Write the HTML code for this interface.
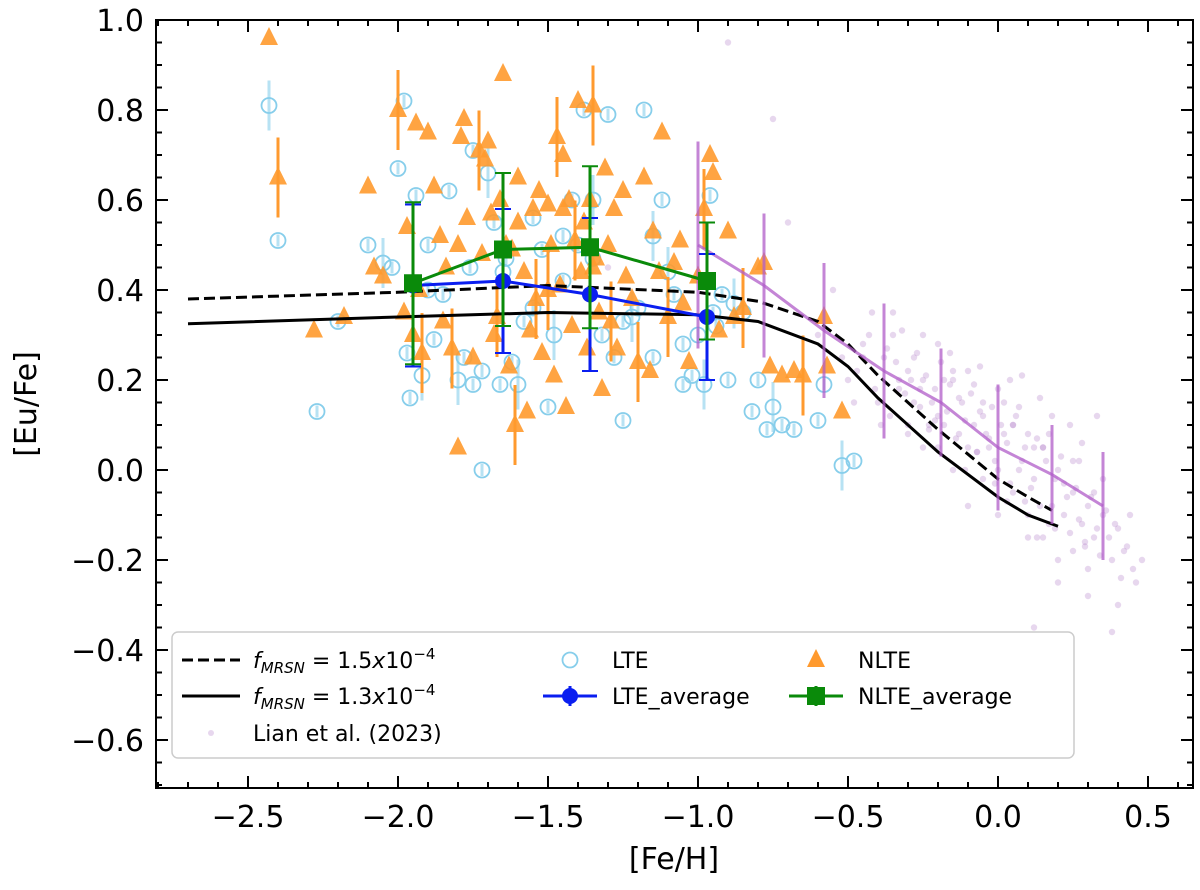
<!DOCTYPE html>
<html><head><meta charset="utf-8"><style>
body{margin:0;background:#fff;}
svg text{font-family:"DejaVu Sans","Liberation Sans",sans-serif;}
</style></head><body>
<svg id="chart" width="1200" height="885" xmlns="http://www.w3.org/2000/svg">
<g id="lian"></g>
<g id="lte"></g>
<g id="nlte"></g>
<g id="models"></g>
<g id="avg"></g>
<g id="axes"></g>
<g id="legend"></g>
</svg>
<script>
const lteX=[-2.43,-2.40,-2.27,-2.2,-2.1,-2.05,-2.02,-1.98,-1.96,-1.94,-1.92,-1.9,-1.88,-1.85,-1.83,-1.8,-1.78,-1.76,-1.75,-1.72,-1.7,-1.68,-1.66,-1.64,-1.62,-1.6,-1.58,-1.55,-1.52,-1.5,-1.48,-1.45,-1.42,-1.4,-1.38,-1.35,-1.32,-1.3,-1.28,-1.25,-1.22,-1.2,-1.18,-1.15,-1.12,-1.1,-1.08,-1.05,-1.02,-1.0,-0.98,-0.96,-0.94,-0.92,-0.9,-0.88,-0.85,-0.82,-0.8,-0.77,-0.75,-0.72,-0.68,-0.6,-0.58,-0.52,-0.48,-1.97,-1.9,-1.75,-1.65,-1.55,-1.45,-1.35,-1.25,-1.15,-1.05,-0.95,-1.72,-2.0];
const lteY=[0.81,0.51,0.13,0.33,0.5,0.46,0.45,0.82,0.16,0.61,0.21,0.5,0.29,0.39,0.62,0.2,0.25,0.45,0.19,0.22,0.66,0.55,0.19,0.47,0.24,0.19,0.33,0.36,0.49,0.14,0.3,0.52,0.6,0.5,0.8,0.6,0.3,0.79,0.25,0.11,0.34,0.36,0.8,0.25,0.6,0.44,0.39,0.19,0.21,0.3,0.19,0.61,0.32,0.39,0.2,0.37,0.35,0.13,0.2,0.09,0.14,0.1,0.09,0.11,0.19,0.01,0.02,0.26,0.4,0.71,0.44,0.56,0.42,0.47,0.33,0.52,0.28,0.35,0.0,0.67];
const nlteX=[-2.43,-2.4,-2.28,-2.18,-2.1,-2.08,-2.05,-2.0,-1.98,-1.97,-1.95,-1.94,-1.93,-1.92,-1.9,-1.88,-1.86,-1.85,-1.84,-1.82,-1.8,-1.79,-1.78,-1.77,-1.75,-1.73,-1.72,-1.71,-1.7,-1.69,-1.68,-1.67,-1.66,-1.65,-1.64,-1.63,-1.62,-1.61,-1.6,-1.58,-1.57,-1.56,-1.55,-1.54,-1.53,-1.52,-1.5,-1.49,-1.48,-1.47,-1.46,-1.45,-1.44,-1.43,-1.42,-1.41,-1.4,-1.39,-1.38,-1.37,-1.36,-1.35,-1.34,-1.33,-1.32,-1.31,-1.3,-1.29,-1.28,-1.27,-1.25,-1.24,-1.22,-1.2,-1.18,-1.16,-1.15,-1.13,-1.12,-1.1,-1.08,-1.06,-1.05,-1.03,-1.0,-0.98,-0.96,-0.95,-0.93,-0.9,-0.88,-0.85,-0.8,-0.78,-0.76,-0.72,-0.68,-0.65,-0.58,-0.57,-0.52,-1.8,-1.6,-1.5,-1.45,-1.35,-1.3];
const nlteY=[0.96,0.65,0.31,0.34,0.63,0.45,0.43,0.8,0.35,0.54,0.3,0.77,0.4,0.26,0.75,0.63,0.52,0.33,0.45,0.27,0.05,0.74,0.78,0.56,0.25,0.71,0.48,0.69,0.73,0.57,0.3,0.34,0.6,0.88,0.5,0.23,0.49,0.1,0.65,0.44,0.13,0.31,0.58,0.38,0.62,0.26,0.59,0.5,0.21,0.74,0.41,0.7,0.14,0.6,0.32,0.51,0.82,0.44,0.55,0.27,0.6,0.81,0.47,0.35,0.18,0.67,0.5,0.33,0.58,0.27,0.62,0.43,0.38,0.24,0.65,0.22,0.53,0.44,0.75,0.34,0.46,0.51,0.37,0.24,0.43,0.58,0.7,0.66,0.31,0.53,0.34,0.36,0.45,0.46,0.23,0.21,0.22,0.21,0.34,0.23,0.13,0.5,0.55,0.4,0.58,0.45];
const lianX=[-0.9,-0.7,-0.6,-0.55,-0.5,-0.48,-0.45,-0.42,-0.4,-0.38,-0.35,-0.33,-0.3,-0.3,-0.28,-0.25,-0.25,-0.22,-0.2,-0.2,-0.18,-0.15,-0.15,-0.12,-0.1,-0.1,-0.08,-0.05,-0.05,-0.03,0.0,0.0,0.02,0.05,0.05,0.08,0.1,0.1,0.12,0.15,0.15,0.18,0.2,0.2,0.22,0.25,0.25,0.28,0.3,0.3,0.32,0.35,0.38,0.4,0.42,0.45,0.48,-0.35,-0.25,-0.15,-0.05,0.05,0.15,0.25,0.35,-0.45,-0.3,-0.2,-0.1,0.0,0.1,0.2,0.3,0.4,-1.3,-0.75,0.12,0.38,
-0.52,-0.47,-0.43,-0.41,-0.37,-0.36,-0.34,-0.32,-0.31,-0.29,-0.27,-0.26,-0.24,-0.23,-0.21,-0.19,-0.17,-0.16,-0.14,-0.13,-0.11,-0.09,-0.07,-0.06,-0.04,-0.02,-0.01,0.01,0.03,0.04,0.06,0.07,0.09,0.11,0.13,0.14,0.16,0.17,0.19,0.21,0.23,0.24,0.26,0.27,0.29,0.31,0.33,0.34,0.36,0.37,0.39,0.41,0.43,0.44,0.46,-0.33,-0.28,-0.23,-0.18,-0.13,-0.08,-0.03,0.02,0.07,0.12,0.17,0.22,0.27,0.32,-0.39,-0.26,-0.16,-0.06,0.04,0.14,0.24,0.28,0.33,-0.21,-0.11,-0.01,0.09,0.19,0.29,0.08,0.18,0.13,-0.07,0.03];
const lianY=[0.95,0.55,0.3,0.4,0.2,0.15,0.28,0.35,0.15,0.25,0.3,0.18,0.22,0.1,0.25,0.2,0.05,0.15,0.28,0.12,0.1,0.2,0.0,0.15,0.05,0.22,0.1,0.12,-0.02,0.05,0.0,0.18,0.08,-0.05,0.1,0.02,-0.1,0.08,-0.02,0.05,-0.15,-0.08,0.0,-0.2,-0.1,-0.05,-0.18,-0.12,-0.08,-0.22,-0.15,-0.1,-0.2,-0.13,-0.18,-0.22,-0.2,0.35,0.3,0.22,0.15,0.1,0.05,0.02,-0.02,0.25,0.08,0.05,-0.08,-0.1,-0.15,-0.25,-0.28,-0.3,0.45,0.78,-0.35,-0.36,
0.25,0.22,0.3,0.18,0.27,0.12,0.24,0.31,0.17,0.2,0.26,0.14,0.21,0.09,0.18,0.24,0.13,0.19,0.07,0.16,0.11,0.17,0.04,0.13,0.08,0.14,0.02,0.1,0.06,-0.03,0.12,0.0,0.05,-0.04,0.07,-0.08,0.02,-0.12,-0.02,0.03,-0.06,-0.14,-0.04,-0.11,-0.16,-0.06,-0.13,-0.19,-0.09,-0.15,-0.12,-0.24,-0.17,-0.1,-0.25,0.2,0.15,0.1,0.2,0.08,0.19,0.07,0.15,0.14,0.05,0.08,-0.03,0.02,-0.05,0.1,0.18,0.26,0.23,0.2,0.16,0.1,0.06,0.12,0.11,0.0,-0.03,-0.07,-0.13,-0.17,0.21,0.12,-0.15,0.04,-0.07];
const dashX=[-2.7,-2.0,-1.5,-1.0,-0.8,-0.6,-0.5,-0.4,-0.2,0.0,0.1,0.18];
const dashY=[0.38,0.395,0.41,0.395,0.375,0.33,0.28,0.21,0.09,-0.02,-0.06,-0.09];
const solX=[-2.7,-2.0,-1.5,-1.0,-0.8,-0.6,-0.5,-0.4,-0.2,0.0,0.1,0.2];
const solY=[0.325,0.34,0.35,0.345,0.33,0.28,0.23,0.16,0.04,-0.06,-0.1,-0.125];
const purX=[-1.0,-0.78,-0.58,-0.38,-0.19,0.0,0.18,0.35];
const purY=[0.5,0.41,0.31,0.22,0.15,0.05,-0.01,-0.08];
const purE=[0.23,0.16,0.15,0.15,0.12,0.14,0.11,0.12];
const avgX=[-1.95,-1.65,-1.36,-0.97];
const lteAvgY=[0.41,0.42,0.39,0.34];
const lteAvgE=[0.18,0.16,0.17,0.14];
const nlteAvgY=[0.415,0.49,0.495,0.42];
const nlteAvgE=[0.18,0.17,0.18,0.13];
const xTicks=[-2.5,-2.0,-1.5,-1.0,-0.5,0.0,0.5];
const yTicks=[-0.6,-0.4,-0.2,0.0,0.2,0.4,0.6,0.8,1.0];

const NS="http://www.w3.org/2000/svg";
const L=156,R=1193,T=20,B=788;
const sx=v=>998+300*v, sy=v=>470-450*v;
function mk(p,tag,at){const e=document.createElementNS(NS,tag);for(const k in at)e.setAttribute(k,at[k]);p.appendChild(e);return e;}
const g=id=>document.getElementById(id);
const fmt=v=>(v<0?"\u2212":"")+Math.abs(v).toFixed(1);

lianX.forEach((x,i)=>{const c=mk(g('lian'),'circle',{cx:sx(x),cy:sy(lianY[i]),r:3.2,fill:'#b07cc6','fill-opacity':0.3});

});

lteX.forEach((x,i)=>{const y=sy(lteY[i]);
mk(g('lte'),'line',{x1:sx(x),x2:sx(x),y1:y-(i%5==0?25:6),y2:y+(i%5==0?25:6),stroke:'#87ceeb','stroke-opacity':0.6,'stroke-width':3});
const c=mk(g('lte'),'circle',{cx:sx(x),cy:y,r:7.5,fill:'none',stroke:'#87ceeb','stroke-width':1.8});

});

nlteX.forEach((x,i)=>{const X=sx(x),Y=sy(nlteY[i]);
if(i%6==1){mk(g('nlte'),'line',{x1:X,x2:X,y1:Y-40,y2:Y+40,stroke:'#ff9a2e','stroke-width':3});}
const t=mk(g('nlte'),'polygon',{points:`${X},${Y-11} ${X-9},${Y+7} ${X+9},${Y+7}`,fill:'#ff9a2e','fill-opacity':0.9});

});

const path=(xs,ys)=>xs.map((x,i)=>(i?'L':'M')+sx(x)+','+sy(ys[i])).join(' ');
let m=mk(g('models'),'path',{d:path(dashX,dashY),fill:'none',stroke:'#000','stroke-width':3,'stroke-dasharray':'11,5'});


m=mk(g('models'),'path',{d:path(solX,solY),fill:'none',stroke:'#000','stroke-width':3});


m=mk(g('models'),'path',{d:path(purX,purY),fill:'none',stroke:'#b05cc8','stroke-opacity':0.75,'stroke-width':3});


purX.forEach((x,i)=>{mk(g('models'),'line',{x1:sx(x),x2:sx(x),y1:sy(purY[i]+purE[i]),y2:sy(purY[i]-purE[i]),stroke:'#b05cc8','stroke-opacity':0.75,'stroke-width':3});});

function avgSeries(ys,es,col,shape){
mk(g('avg'),'path',{d:path(avgX,ys),fill:'none',stroke:col,'stroke-width':3});
avgX.forEach((x,i)=>{const X=sx(x);
mk(g('avg'),'line',{x1:X,x2:X,y1:sy(ys[i]+es[i]),y2:sy(ys[i]-es[i]),stroke:col,'stroke-width':3});
[ys[i]+es[i],ys[i]-es[i]].forEach(v=>mk(g('avg'),'line',{x1:X-8,x2:X+8,y1:sy(v),y2:sy(v),stroke:col,'stroke-width':2}));
let p;if(shape=='sq')p=mk(g('avg'),'rect',{x:X-9,y:sy(ys[i])-9,width:18,height:18,fill:col});
else p=mk(g('avg'),'circle',{cx:X,cy:sy(ys[i]),r:8,fill:col});

});}
avgSeries(lteAvgY,lteAvgE,'#0a1ef0','c');
avgSeries(nlteAvgY,nlteAvgE,'#0a8a0a','sq');

const ax=g('axes');
mk(ax,'rect',{x:L,y:T,width:R-L,height:B-T,fill:'none',stroke:'#000','stroke-width':2});
for(let v=-2.8;v<=0.65;v+=0.1){const X=sx(v);if(X<L+1||X>R-1)continue;const maj=Math.abs(v*10%5)<0.01||Math.abs(Math.abs(v*10%5)-5)<0.01;
mk(ax,'line',{x1:X,x2:X,y1:B,y2:B-(maj?12:6),stroke:'#000','stroke-width':2});mk(ax,'line',{x1:X,x2:X,y1:T,y2:T+(maj?12:6),stroke:'#000','stroke-width':2});}
for(let v=-0.7;v<=1.0;v+=0.05){const Y=sy(v);if(Y<T+1||Y>B-1)continue;const maj=Math.abs(Math.round(v*100)%20)==0;
mk(ax,'line',{x1:L,x2:L+(maj?12:6),y1:Y,y2:Y,stroke:'#000','stroke-width':2});mk(ax,'line',{x1:R,x2:R-(maj?12:6),y1:Y,y2:Y,stroke:'#000','stroke-width':2});}
xTicks.forEach(v=>{const t=mk(ax,'text',{x:sx(v),y:827,'text-anchor':'middle','font-size':30});t.textContent=fmt(v);

});
yTicks.forEach(v=>{const t=mk(ax,'text',{x:144,y:sy(v)+11,'text-anchor':'end','font-size':30});t.textContent=fmt(v);

});
let t=mk(ax,'text',{x:674,y:869,'text-anchor':'middle','font-size':30});t.textContent='[Fe/H]';


t=mk(ax,'text',{x:0,y:0,'text-anchor':'middle','font-size':30,transform:'translate(36,404) rotate(-90)'});t.textContent='[Eu/Fe]';



const lg=g('legend');
mk(lg,'rect',{x:172,y:632,width:902,height:126,rx:6,fill:'#fff','fill-opacity':0.85,stroke:'#ccc','stroke-width':1.5});
mk(lg,'line',{x1:182,x2:240,y1:660,y2:660,stroke:'#000','stroke-width':3,'stroke-dasharray':'11,5'});
mk(lg,'line',{x1:182,x2:240,y1:696,y2:696,stroke:'#000','stroke-width':3});
mk(lg,'circle',{cx:211,cy:733,r:3,fill:'#b07cc6','fill-opacity':0.3});
function lt(x,y,s,n){const e=mk(lg,'text',{x:x,y:y,'font-size':22});e.innerHTML=s;

}
lt(253,668,'<tspan font-style="italic">f</tspan><tspan font-style="italic" font-size="15" dy="5">MRSN</tspan><tspan dy="-5"> = 1.5</tspan><tspan font-style="italic">x</tspan>10<tspan font-size="15" dy="-9">−4</tspan>','legend-model-1p5');
lt(253,704,'<tspan font-style="italic">f</tspan><tspan font-style="italic" font-size="15" dy="5">MRSN</tspan><tspan dy="-5"> = 1.3</tspan><tspan font-style="italic">x</tspan>10<tspan font-size="15" dy="-9">−4</tspan>','legend-model-1p3');
lt(253,741,'Lian et al. (2023)','legend-lian');
mk(lg,'circle',{cx:570,cy:660,r:7.5,fill:'none',stroke:'#87ceeb','stroke-width':1.8});
lt(612,668,'LTE','legend-lte');
mk(lg,'line',{x1:543,x2:597,y1:696,y2:696,stroke:'#0a1ef0','stroke-width':3});
mk(lg,'line',{x1:570,x2:570,y1:686,y2:706,stroke:'#0a1ef0','stroke-width':3});
mk(lg,'circle',{cx:570,cy:696,r:8,fill:'#0a1ef0'});
lt(612,704,'LTE_average','legend-lte-average');
mk(lg,'polygon',{points:'816,649 807,667 825,667',fill:'#ff9a2e'});
lt(858,668,'NLTE','legend-nlte');
mk(lg,'line',{x1:789,x2:843,y1:696,y2:696,stroke:'#0a8a0a','stroke-width':3});
mk(lg,'line',{x1:816,x2:816,y1:686,y2:706,stroke:'#0a8a0a','stroke-width':3});
mk(lg,'rect',{x:807,y:687,width:18,height:18,fill:'#0a8a0a'});
lt(858,704,'NLTE_average','legend-nlte-average');
</script>
</body></html>
